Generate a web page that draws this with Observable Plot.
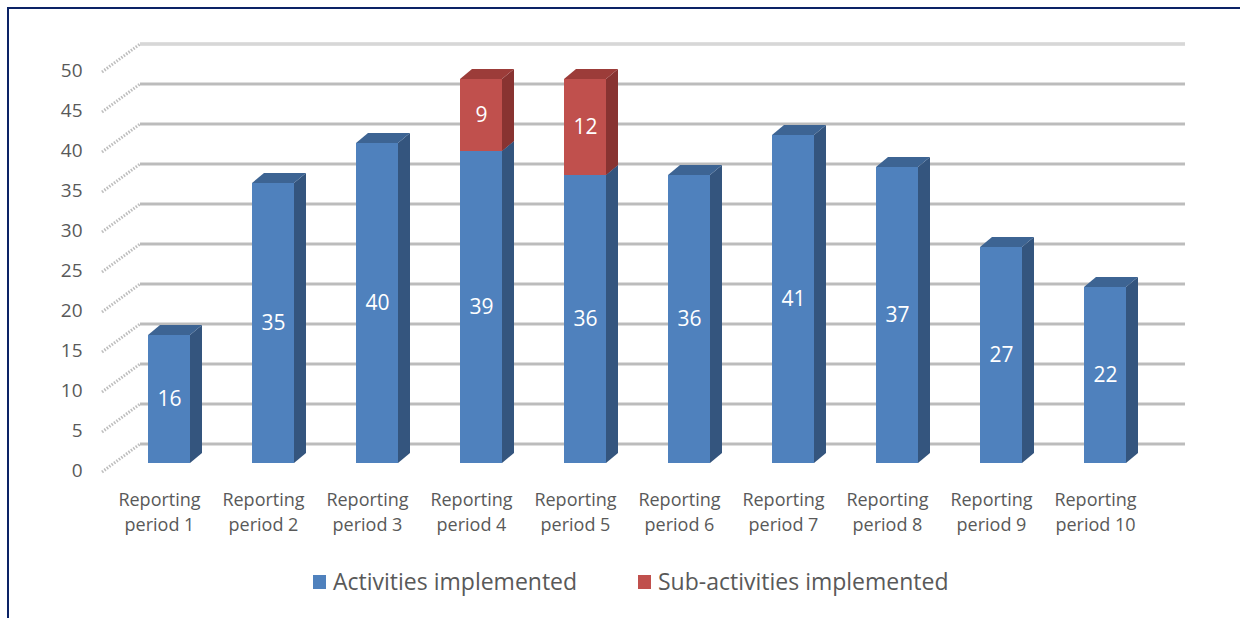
<!DOCTYPE html>
<html>
<head>
<meta charset="utf-8">
<script src="https://cdn.jsdelivr.net/npm/d3@7"></script>
<script src="https://cdn.jsdelivr.net/npm/@observablehq/plot@0.6"></script>
<style>
  html, body { margin: 0; padding: 0; background: #fff; overflow: hidden; width: 1240px; height: 618px; }
  #frame { position: absolute; left: 7px; top: 7px; width: 1400px; height: 800px; border-top: 2px solid #0c2366; border-left: 2px solid #0c2366; }
  #chart { position: absolute; left: 0; top: 0; }
  .lg { position: absolute; font-family: "Open Sans", sans-serif; font-size: 23px; color: #595959; line-height: 30px; white-space: nowrap; }
  .sw { position: absolute; width: 13px; height: 14px; }
</style>
</head>
<body>
<div id="frame"></div>
<div id="chart"></div>
<div class="sw" style="left:313px; top:575px; background:#4F81BD"></div>
<div class="lg" style="left:333px; top:566px">Activities implemented</div>
<div class="sw" style="left:638px; top:575px; background:#C0504D"></div>
<div class="lg" style="left:658px; top:566px">Sub-activities implemented</div>
<script>
const periods = ["Reporting period 1","Reporting period 2","Reporting period 3","Reporting period 4","Reporting period 5","Reporting period 6","Reporting period 7","Reporting period 8","Reporting period 9","Reporting period 10"];
const periodLabels = ["Reporting\nperiod 1","Reporting\nperiod 2","Reporting\nperiod 3","Reporting\nperiod 4","Reporting\nperiod 5","Reporting\nperiod 6","Reporting\nperiod 7","Reporting\nperiod 8","Reporting\nperiod 9","Reporting\nperiod 10"];
const seriesNames = ["Activities implemented", "Sub-activities implemented"];
const activities = [16, 35, 40, 39, 36, 36, 41, 37, 27, 22];
const subActivities = [null, null, null, 9, 12, null, null, null, null, null];
const yTicks = [0, 5, 10, 15, 20, 25, 30, 35, 40, 45, 50];
const seriesColors = ["#4F81BD", "#C0504D"];
const sideColors = ["#34557E", "#883331"];
const topColors = ["#3D6493", "#9C3C39"];

// stacked rows: base (y1) and top (y2) derived from the values above
const rows = [];
periods.forEach((p, i) => rows.push({period: p, s: 0, series: seriesNames[0], value: activities[i], y1: 0, y2: activities[i]}));
periods.forEach((p, i) => { if (subActivities[i] != null) rows.push({period: p, s: 1, series: seriesNames[1], value: subActivities[i], y1: activities[i], y2: activities[i] + subActivities[i]}); });

const DX = 12, DY = -10;       // bar depth offset
const BX = 38, BY = -28;        // wall depth offset (front floor -> back wall)
const FRONT = 9;                // floor front offset below bar plane

const chart = Plot.plot({
  width: 1240,
  height: 545,
  marginLeft: 140,
  marginRight: 55,
  marginTop: 63,
  marginBottom: 82,
  style: {fontFamily: "'Open Sans', sans-serif", background: "transparent"},
  x: {domain: periods, range: [115, 1159], paddingInner: 0.6, paddingOuter: 0.3, axis: null},
  y: {domain: [0, 50], axis: null},
  color: {domain: seriesNames, range: seriesColors},
  marks: [
    Plot.ruleY(yTicks, {
      y: d => d,
      render(index, scales, values, dims) {
        const g = d3.create("svg:g");
        const x0 = dims.marginLeft, x1 = dims.width - dims.marginRight;
        for (const i of index) {
          const y = values.y[i];
          const yb = y + FRONT + BY;
          g.append("line").attr("x1", x0 - BX).attr("y1", y + FRONT).attr("x2", x0).attr("y2", yb)
            .attr("stroke", "#bdbdbd").attr("stroke-width", 3).attr("stroke-dasharray", "1.5,1.5");
          g.append("line").attr("x1", x0).attr("y1", yb).attr("x2", x1).attr("y2", yb)
            .attr("stroke", "#dedede").attr("stroke-width", 4);
          g.append("line").attr("x1", x0).attr("y1", yb).attr("x2", x1).attr("y2", yb)
            .attr("stroke", i === index[index.length - 1] ? "#d0d0d0" : "#9a9a9a").attr("stroke-width", 1.2);
        }
        return g.node();
      }
    }),
    Plot.axisY({ticks: yTicks, label: null, tickSize: 0, tickPadding: 58, dy: 7, fontSize: 19, fill: "#595959"}),
    Plot.text(periods, {
      x: d => d,
      text: (d, i) => periodLabels[i],
      frameAnchor: "bottom",
      lineAnchor: "middle",
      dy: 47,
      dx: -10,
      lineHeight: 1.39,
      fontSize: 18,
      fill: "#595959"
    }),
    Plot.rectY(rows, {
      x: "period",
      y1: "y1",
      y2: "y2",
      fill: "series",
      render(index, scales) {
        const g = d3.create("svg:g");
        const bw = typeof scales.x.bandwidth === "function" ? scales.x.bandwidth() : scales.x.bandwidth;
        for (const i of index) {
          const r = rows[i];
          const xa = scales.x(r.period), xb = xa + bw;
          const yTop = scales.y(r.y2), yBot = scales.y(r.y1);
          g.append("path")
            .attr("d", `M${xb},${yBot}L${xb + DX},${yBot + DY}L${xb + DX},${yTop + DY}L${xb},${yTop}Z`)
            .attr("fill", sideColors[r.s]);
          g.append("path")
            .attr("d", `M${xa},${yTop}L${xa + DX},${yTop + DY}L${xb + DX},${yTop + DY}L${xb},${yTop}Z`)
            .attr("fill", topColors[r.s]);
          g.append("rect").attr("x", xa).attr("y", yTop).attr("width", bw).attr("height", yBot - yTop)
            .attr("fill", seriesColors[r.s]);
        }
        return g.node();
      }
    }),
    Plot.text(rows, {
      x: "period",
      y: d => (d.y1 + d.y2) / 2,
      text: "value",
      fill: "white",
      fontSize: 21
    })
  ]
});
document.getElementById("chart").appendChild(chart);
</script>
</body>
</html>
